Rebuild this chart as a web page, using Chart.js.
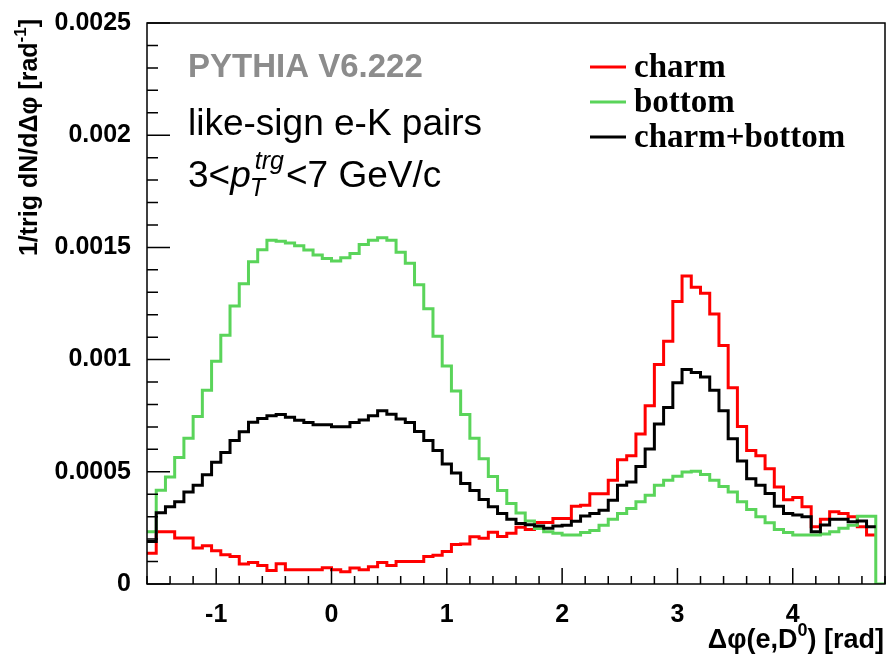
<!DOCTYPE html>
<html>
<head>
<meta charset="utf-8">
<title>PYTHIA e-D0 correlation</title>
<script src="https://cdn.jsdelivr.net/npm/chart.js@4.4.1/dist/chart.umd.min.js"></script>
<style>
  html, body { margin: 0; padding: 0; background: #fff; }
  #box { width: 886px; height: 655px; }
</style>
</head>
<body>
<div id="box"><canvas id="myChart" width="886" height="655"></canvas></div>
<script>
'use strict';
// histogram binning: 80 bins of 0.08 rad starting at -1.6
const binLow = -1.6;
const binWidth = 0.08;

// bin contents, in units of 1e-4 per rad
const charm = [1.37, 2.33, 2.33, 2.05, 2.05, 1.60, 1.70, 1.48, 1.30, 1.22,
  0.89, 0.96, 0.82, 0.60, 0.90, 0.63, 0.63, 0.63, 0.63, 0.72,
  0.63, 0.55, 0.71, 0.63, 0.77, 0.96, 0.82, 1.00, 1.00, 1.00,
  1.23, 1.28, 1.45, 1.76, 1.78, 2.11, 2.04, 2.31, 2.12, 2.26,
  2.53, 2.43, 2.74, 2.74, 2.92, 2.92, 3.47, 3.51, 4.02, 4.02,
  4.62, 5.54, 5.72, 6.68, 7.94, 9.78, 10.82, 12.59, 13.72, 13.22,
  12.96, 12.03, 10.63, 8.75, 7.02, 5.95, 5.72, 5.14, 4.32, 3.76,
  3.85, 3.44, 2.55, 2.88, 3.22, 3.14, 3.00, 2.55, 2.18];

const bottom = [2.33, 4.18, 4.77, 5.64, 6.49, 7.46, 8.63, 9.93, 11.08, 12.39,
  13.38, 14.36, 14.90, 15.32, 15.27, 15.20, 15.07, 14.88, 14.66, 14.51,
  14.39, 14.54, 14.73, 15.13, 15.32, 15.43, 15.32, 14.78, 14.29, 13.33,
  12.27, 11.04, 9.72, 8.60, 7.55, 6.49, 5.58, 4.79, 4.17, 3.59,
  3.16, 2.81, 2.47, 2.33, 2.26, 2.18, 2.18, 2.30, 2.38, 2.62,
  2.88, 3.14, 3.37, 3.66, 3.96, 4.40, 4.62, 4.80, 4.99, 5.02,
  4.88, 4.62, 4.35, 4.10, 3.66, 3.32, 3.00, 2.73, 2.43, 2.29,
  2.18, 2.18, 2.18, 2.23, 2.33, 2.48, 2.62, 3.02, 3.02, 0];

const charmBottom = [1.89, 3.18, 3.44, 3.67, 4.10, 4.40, 4.87, 5.43, 5.86, 6.39,
  6.78, 7.21, 7.38, 7.50, 7.55, 7.43, 7.30, 7.20, 7.10, 7.10,
  7.01, 7.01, 7.20, 7.31, 7.50, 7.72, 7.57, 7.35, 7.20, 6.80,
  6.39, 5.95, 5.35, 4.95, 4.48, 4.17, 3.77, 3.44, 3.14, 2.88,
  2.70, 2.64, 2.58, 2.48, 2.58, 2.62, 2.80, 3.03, 3.14, 3.29,
  3.73, 4.40, 4.55, 5.24, 6.02, 7.13, 7.87, 8.97, 9.56, 9.42,
  9.23, 8.63, 7.72, 6.47, 5.48, 4.69, 4.40, 4.03, 3.47, 3.14,
  3.07, 3.00, 2.33, 2.63, 2.88, 2.88, 2.77, 2.81, 2.55];

const seriesNames = ['charm', 'bottom', 'charm+bottom'];
const seriesColors = ['#ff0000', '#5ad45a', '#000000'];

const xTickValues = [-1, 0, 1, 2, 3, 4];
const yTickValues = [0, 0.0005, 0.001, 0.0015, 0.002, 0.0025];

// one point per bin low edge plus the closing edge, drawn as steps
function histPoints(vals) {
  let pts = vals.map((v, i) => ({ x: binLow + i * binWidth, y: v * 1e-4 }));
  pts.push({ x: binLow + vals.length * binWidth, y: vals[vals.length - 1] * 1e-4 });
  return pts;
}

const sansFont = '"Liberation Sans", Arial, sans-serif';
const serifFont = '"Liberation Serif", "Times New Roman", serif';

// draws a run of text pieces (font / vertical shift) starting at x
function drawPieces(ctx, x, y, pieces, align) {
  let total = 0;
  pieces.forEach(p => { ctx.font = p.font; total += ctx.measureText(p.t).width + (p.gap || 0); });
  let cx = align === 'right' ? x - total : x;
  pieces.forEach(p => {
    ctx.font = p.font;
    ctx.fillText(p.t, cx, y + (p.dy || 0));
    cx += ctx.measureText(p.t).width + (p.gap || 0);
  });
}

const rootStyle = {
  id: 'rootStyle',
  afterDraw(chart) {
    const ctx = chart.ctx;
    const a = chart.chartArea;
    const xs = chart.scales.x;
    const ys = chart.scales.y;
    ctx.save();
    ctx.strokeStyle = '#000';
    ctx.lineWidth = 1.5;
    ctx.strokeRect(a.left, a.top, a.right - a.left, a.bottom - a.top);

    // tick marks inside the frame
    ctx.beginPath();
    for (let k = -8; k <= 24; k++) {
      let v = k * 0.2;
      if (v < xs.min || v > xs.max) continue;
      let px = xs.getPixelForValue(v);
      let len = (k % 5 === 0) ? 16 : 8;
      ctx.moveTo(px, a.bottom);
      ctx.lineTo(px, a.bottom - len);
    }
    for (let k = 0; k <= 25; k++) {
      let py = ys.getPixelForValue(k * 0.0001);
      let len = (k % 5 === 0) ? 23 : 11;
      ctx.moveTo(a.left, py);
      ctx.lineTo(a.left + len, py);
    }
    ctx.stroke();

    ctx.textBaseline = 'alphabetic';
    ctx.textAlign = 'left';

    // generator label and selection
    ctx.fillStyle = '#8c8c8c';
    ctx.font = 'bold 33px ' + sansFont;
    ctx.fillText('PYTHIA V6.222', 188, 77);

    ctx.fillStyle = '#000';
    const big = '37px ' + sansFont;
    const bigIt = 'italic 37px ' + sansFont;
    const small = 'italic 25px ' + sansFont;
    ctx.font = big;
    ctx.fillText('like-sign e-K pairs', 188, 135);
    ctx.font = big;
    let w0 = ctx.measureText('3<').width;
    ctx.fillText('3<', 188, 187);
    ctx.font = bigIt;
    let w1 = ctx.measureText('p').width;
    ctx.fillText('p', 188 + w0, 187);
    ctx.font = small;
    let wT = ctx.measureText('T').width;
    let wS = ctx.measureText('trg').width;
    ctx.fillText('T', 188 + w0 + w1 - 1, 196);
    ctx.fillText('trg', 188 + w0 + w1 + 4, 169);
    ctx.font = big;
    ctx.fillText('<7 GeV/c', 188 + w0 + w1 + Math.max(wT, wS + 4) + 2, 187);

    // legend
    chart.data.datasets.forEach((ds, i) => {
      let ly = 67 + i * 35;
      ctx.strokeStyle = ds.borderColor;
      ctx.lineWidth = 3;
      ctx.beginPath();
      ctx.moveTo(590, ly);
      ctx.lineTo(626, ly);
      ctx.stroke();
      ctx.fillStyle = '#000';
      ctx.font = 'bold 33px ' + serifFont;
      ctx.fillText(ds.label, 634, ly + 10);
    });

    // axis titles
    ctx.fillStyle = '#000';
    drawPieces(ctx, 884, 648, [
      { t: '\u0394\u03c6(e,D', font: 'bold 27px ' + sansFont },
      { t: '0', font: 'bold 18px ' + sansFont, dy: -12 },
      { t: ') [rad]', font: 'bold 27px ' + sansFont }
    ], 'right');

    ctx.translate(37, 19);
    ctx.rotate(-Math.PI / 2);
    drawPieces(ctx, 0, 0, [
      { t: '1/trig dN/d\u0394\u03c6 [rad', font: 'bold 25px ' + sansFont },
      { t: '-1', font: 'bold 17px ' + sansFont, dy: -11 },
      { t: ']', font: 'bold 25px ' + sansFont }
    ], 'right');
    ctx.restore();
  }
};

Chart.defaults.font.family = sansFont;

const ctx = document.getElementById('myChart').getContext('2d');
const myChart = new Chart(ctx, {
  type: 'line',
  data: {
    datasets: [
      { label: seriesNames[0], data: histPoints(charm), borderColor: seriesColors[0], order: 2 },
      { label: seriesNames[1], data: histPoints(bottom), borderColor: seriesColors[1], order: 1 },
      { label: seriesNames[2], data: histPoints(charmBottom), borderColor: seriesColors[2], order: 0 }
    ].map(d => Object.assign(d, { stepped: 'before', borderWidth: 3, pointRadius: 0, fill: false, tension: 0 }))
  },
  options: {
    responsive: false,
    animation: false,
    devicePixelRatio: 1,
    layout: { padding: { top: 20, right: 1, left: 0, bottom: 0 } },
    plugins: { legend: { display: false }, tooltip: { enabled: false } },
    scales: {
      x: {
        type: 'linear',
        min: binLow,
        max: binLow + 80 * binWidth,
        grid: { display: false },
        border: { display: false },
        afterBuildTicks: s => { s.ticks = xTickValues.map(v => ({ value: v })); },
        afterFit: s => { s.height = 71; },
        ticks: {
          color: '#000',
          font: { size: 25, weight: 'bold' },
          padding: 8,
          maxRotation: 0,
          callback: v => String(v)
        }
      },
      y: {
        type: 'linear',
        min: 0,
        max: 0.0025,
        grid: { display: false },
        border: { display: false },
        afterBuildTicks: s => { s.ticks = yTickValues.map(v => ({ value: v })); },
        afterFit: s => { s.width = 147; },
        ticks: {
          color: '#000',
          font: { size: 25, weight: 'bold' },
          padding: 8,
          callback: v => String(+v.toFixed(4))
        }
      }
    }
  },
  plugins: [rootStyle]
});
</script>
</body>
</html>
